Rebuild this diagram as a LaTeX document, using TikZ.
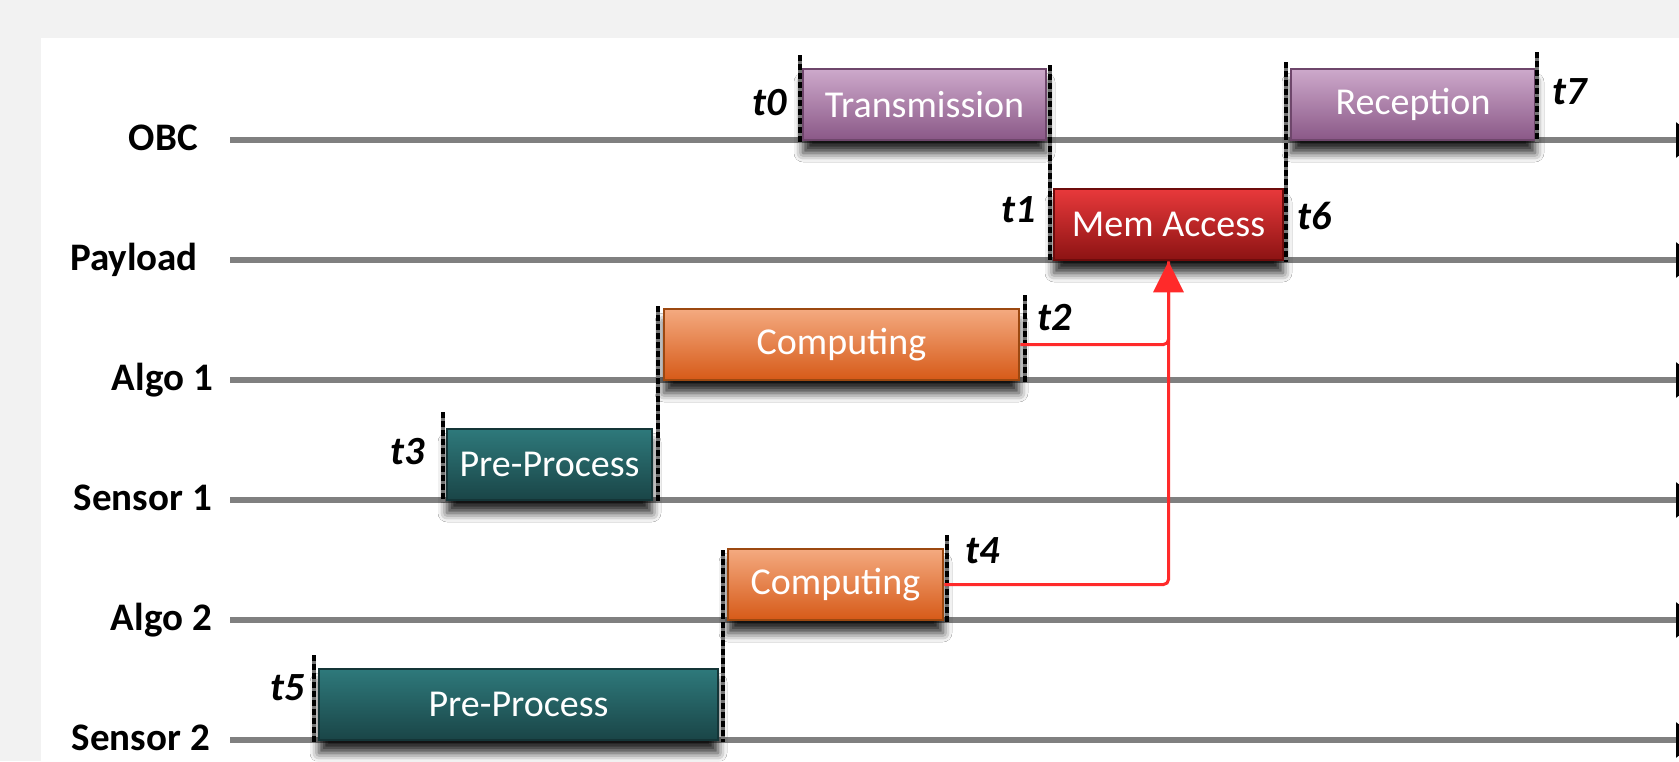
\documentclass[tikz,border=0pt]{standalone}
\usepackage{fontspec}
\setmainfont{Carlito}
\usetikzlibrary{arrows.meta,shadows.blur}
\definecolor{bggray}{HTML}{F2F2F2}
\definecolor{lanegray}{HTML}{808080}
\definecolor{purpletop}{HTML}{CDA9CB}
\definecolor{purplebot}{HTML}{8A5887}
\definecolor{purpleborder}{HTML}{6E466B}
\definecolor{redtop}{HTML}{E8393B}
\definecolor{redbot}{HTML}{8C1313}
\definecolor{redborder}{HTML}{6E0C0C}
\definecolor{orangetop}{HTML}{F4AA80}
\definecolor{orangebot}{HTML}{D65A18}
\definecolor{orangeborder}{HTML}{9C4810}
\definecolor{tealtop}{HTML}{2E797B}
\definecolor{tealbot}{HTML}{1A4547}
\definecolor{tealborder}{HTML}{143537}
\definecolor{linkred}{HTML}{FF2A2A}
\begin{document}
\begin{tikzpicture}[x=1pt,y=1pt,
  lane/.style={draw=lanegray,line width=6pt,-{Triangle[length=24pt,width=34pt,color=black]}},
  lanelabel/.style={anchor=base east,font=\fontsize{39}{40}\selectfont\bfseries,inner sep=0pt},
  box/.style={draw,line width=2.5pt,minimum height=71pt,inner sep=0pt,text=white,
    font=\fontsize{38}{40}\selectfont,
    blur shadow={shadow xshift=0pt,shadow yshift=-13pt,shadow blur radius=9pt,shadow opacity=85}},
  purplebox/.style={box,draw=purpleborder,top color=purpletop,bottom color=purplebot},
  redbox/.style={box,draw=redborder,top color=redtop,bottom color=redbot},
  orangebox/.style={box,draw=orangeborder,top color=orangetop,bottom color=orangebot},
  tealbox/.style={box,draw=tealborder,top color=tealtop,bottom color=tealbot},
  tick/.style={draw=black,line width=3.5pt,dash pattern=on 6pt off 3pt,
    preaction={draw=black!55,solid,line width=3.5pt}},
  tlabel/.style={font=\fontsize{40}{40}\selectfont\bfseries\itshape,inner sep=0pt},
  link/.style={draw=linkred,line width=3pt,rounded corners=5pt}
]
\useasboundingbox (0,0) rectangle (1679,-761);
\fill[bggray] (0,0) rectangle (1679,-761);
\fill[white] (41,-38) rectangle (1679,-761);

% lanes
\foreach \y/\n in {140/obc,260/pay,380/alg1,500/sen1,620/alg2,740/sen2}{
  \coordinate (\n-s) at (230,-\y);
  \coordinate (\n-e) at (1700,-\y);
  \draw[lane] (\n-s) -- (\n-e);
}
\node[lanelabel] (lobc) at (198,-150) {OBC};
\node[lanelabel] (lpay) at (198,-270) {Payload};
\node[lanelabel] (lalg1) at (213,-390) {Algo 1};
\node[lanelabel] (lsen1) at (212,-510) {Sensor 1};
\node[lanelabel] (lalg2) at (212,-630) {Algo 2};
\node[lanelabel] (lsen2) at (210,-750) {Sensor 2};

% boxes
\node[purplebox,minimum width=243pt] (trans) at (924.5,-104.5) {Transmission};
\node[redbox,minimum width=229pt] (mem) at (1168.5,-224.5) {Mem Access};
\node[purplebox,minimum width=244pt] (recep) at (1413,-104.5) {Reception};
\node[orangebox,minimum width=355pt] (comp1) at (841.5,-344.5) {Computing};
\node[tealbox,minimum width=205pt] (pre1) at (549.5,-464.5) {Pre-Process};
\node[orangebox,minimum width=215pt] (comp2) at (835.5,-584.5) {Computing};
\node[tealbox,minimum width=399pt] (pre2) at (518.5,-704.5) {Pre-Process};

% time markers
\draw[tick] (800,-55) -- (800,-143);
\draw[tick] (1050,-65) -- (1050,-262);
\draw[tick] (1286,-62) -- (1286,-262);
\draw[tick] (1537,-52) -- (1537,-142);
\draw[tick] (658,-306) -- (658,-502);
\draw[tick] (1025,-295) -- (1025,-382);
\draw[tick] (443,-412) -- (443,-502);
\draw[tick] (723,-550) -- (723,-742);
\draw[tick] (947,-535) -- (947,-622);
\draw[tick] (314,-655) -- (314,-742);

\node[tlabel] (t0) at (770,-103) {t0};
\node[tlabel] (t1) at (1019,-210) {t1};
\node[tlabel] (t2) at (1055,-318) {t2};
\node[tlabel] (t3) at (408,-452) {t3};
\node[tlabel] (t4) at (983,-551) {t4};
\node[tlabel] (t5) at (288,-688) {t5};
\node[tlabel] (t6) at (1315,-216) {t6};
\node[tlabel] (t7) at (1570,-92) {t7};

% links
\draw[link] (comp1.east) -| (mem.south);
\draw[link,-{Triangle[length=31pt,width=30pt]}] (comp2.east) -| (mem.south);
\end{tikzpicture}
\end{document}
